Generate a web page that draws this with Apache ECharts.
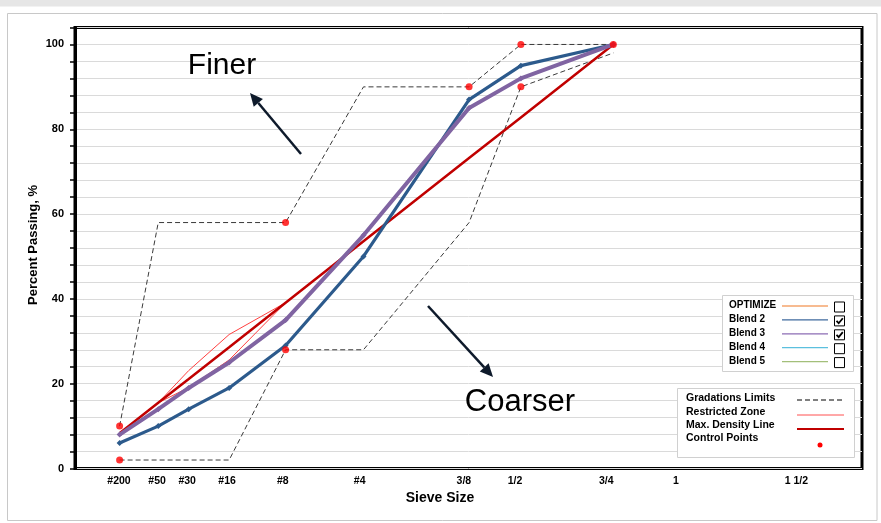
<!DOCTYPE html>
<html>
<head>
<meta charset="utf-8">
<script src="https://cdn.jsdelivr.net/npm/echarts@6/dist/echarts.min.js"></script>
<style>
  html, body { margin: 0; padding: 0; background: #fff; }
  #chart { width: 881px; height: 523px; }
</style>
</head>
<body>
<div id="chart"></div>
<script>
// Sieve designations and their openings (mm); the horizontal scale is opening^0.45
const sieveNames   = ['#200', '#50', '#30', '#16', '#8', '#4', '3/8', '1/2', '3/4', '1', '1 1/2'];
const sieveSizesMm = [0.075, 0.3, 0.6, 1.18, 2.36, 4.75, 9.5, 12.5, 19, 25, 37.5];

// Blend gradations (percent passing)
const blendSieves = ['#200', '#50', '#30', '#16', '#8', '#4', '3/8', '1/2', '3/4'];
const blend2 = [6, 10, 14, 19, 29, 50, 87, 95, 100];
const blend3 = [8, 14, 19, 25, 35, 55, 85, 92, 100];

// Maximum density line
const maxDensity = [8.3, 15.5, 21.1, 28.6, 39.1, 53.6, 73.2, 82.8, 100];

// Gradation limits
const upperLimitSieves = ['#200', '#50', '#8', '#4', '3/8', '1/2', '3/4'];
const upperLimit = [10, 58, 58, 90, 90, 100, 100];
const lowerLimitSieves = ['#200', '#16', '#8', '#4', '3/8', '1/2', '3/4'];
const lowerLimit = [2, 2, 28, 28, 58, 90, 98];

// Restricted zone
const rzSieves = ['#50', '#30', '#16', '#8'];
const rzUpper = [15.5, 23.1, 31.6, 39.1];
const rzLower = [15.5, 19.1, 25.6, 39.1];

// Control points
const controlSieves = ['#200', '#200', '#8', '#8', '3/8', '1/2', '1/2', '3/4'];
const controlValues = [2, 10, 28, 58, 90, 90, 100, 100];

// Labelled percent-passing values
const yLabelStep = 20;

const POWER = 0.45;
function sievePos(name) {
  return Math.pow(sieveSizesMm[sieveNames.indexOf(name)], POWER);
}
function pairs(names, values) {
  return names.map((n, i) => [sievePos(n), values[i]]);
}
const tickPositions = sieveNames.map(sievePos);

const FONT = '"Liberation Sans", Arial, sans-serif';
const chart = echarts.init(document.getElementById('chart'));

// Arrow built from a shaft and a filled head
function arrow(x1, y1, x2, y2, color) {
  const dx = x2 - x1, dy = y2 - y1, L = Math.hypot(dx, dy);
  const ux = dx / L, uy = dy / L, hl = 13, hw = 6;
  const bx = x2 - ux * hl, by = y2 - uy * hl;
  return [
    { type: 'line', z: 50, shape: { x1: x1, y1: y1, x2: bx, y2: by },
      style: { stroke: color, lineWidth: 2.5 } },
    { type: 'polygon', z: 50,
      shape: { points: [[x2, y2], [bx - uy * hw, by + ux * hw], [bx + uy * hw, by - ux * hw]] },
      style: { fill: color } }
  ];
}

// Legend panels
const blendLegend = [
  { name: 'OPTIMIZE', color: '#F4A46C', checked: false },
  { name: 'Blend 2',  color: '#3F6A9E', checked: true },
  { name: 'Blend 3',  color: '#8C6DB4', checked: true },
  { name: 'Blend 4',  color: '#5BC0DE', checked: false },
  { name: 'Blend 5',  color: '#A3BF7A', checked: false }
];
const keyLegend = ['Gradations Limits', 'Restricted Zone', 'Max. Density Line', 'Control Points'];

const graphics = [];
graphics.push({ type: 'rect', z: -10, shape: { x: 0, y: 0, width: 881, height: 6.5 }, style: { fill: '#E6E6E6' } });
graphics.push({ type: 'rect', z: -10, shape: { x: 7.5, y: 13.5, width: 869.5, height: 507 },
  style: { fill: 'none', stroke: '#C8C8C8', lineWidth: 1 } });

// Blend legend box
graphics.push({ type: 'rect', z: 100, shape: { x: 722.5, y: 295.5, width: 131, height: 76 },
  style: { fill: '#fff', stroke: '#D0D0D0', lineWidth: 1 } });
blendLegend.forEach((it, i) => {
  const yc = 305.5 + i * 13.9;
  graphics.push({ type: 'text', z: 101, x: 729, y: yc,
    style: { text: it.name, font: 'bold 10px ' + FONT, fill: '#000', verticalAlign: 'middle' } });
  graphics.push({ type: 'line', z: 101, shape: { x1: 782, y1: yc + 0.5, x2: 828, y2: yc + 0.5 },
    style: { stroke: it.color, lineWidth: 1.3 } });
  graphics.push({ type: 'rect', z: 101, shape: { x: 834.5, y: yc - 3.5, width: 10, height: 10 },
    style: { fill: '#fff', stroke: '#000', lineWidth: 1 } });
  if (it.checked) {
    graphics.push({ type: 'polyline', z: 102,
      shape: { points: [[836.5, yc + 1.5], [838.7, yc + 3.8], [842.8, yc - 1.2]] },
      style: { stroke: '#000', lineWidth: 1.8, fill: 'none' } });
  }
});

// Line-type legend box
graphics.push({ type: 'rect', z: 100, shape: { x: 677.5, y: 388.5, width: 177, height: 69 },
  style: { fill: '#fff', stroke: '#D0D0D0', lineWidth: 1 } });
keyLegend.forEach((t, i) => {
  graphics.push({ type: 'text', z: 101, x: 686, y: 398.5 + i * 13.3,
    style: { text: t, font: 'bold 10.5px ' + FONT, fill: '#000', verticalAlign: 'middle' } });
});
graphics.push({ type: 'line', z: 101, shape: { x1: 797, y1: 400, x2: 844, y2: 400 },
  style: { stroke: '#000', lineWidth: 1, lineDash: [5, 3] } });
graphics.push({ type: 'line', z: 101, shape: { x1: 797, y1: 415, x2: 844, y2: 415 },
  style: { stroke: '#FF5050', lineWidth: 1 } });
graphics.push({ type: 'line', z: 101, shape: { x1: 797, y1: 429, x2: 844, y2: 429 },
  style: { stroke: '#C00000', lineWidth: 2 } });
graphics.push({ type: 'circle', z: 101, shape: { cx: 820, cy: 445, r: 2.5 }, style: { fill: '#FF0000' } });

// Annotations
graphics.push({ type: 'text', z: 50, x: 222, y: 66,
  style: { text: 'Finer', font: '30px ' + FONT, fill: '#000', align: 'center', verticalAlign: 'middle' } });
graphics.push({ type: 'text', z: 50, x: 520, y: 402,
  style: { text: 'Coarser', font: '31px ' + FONT, fill: '#000', align: 'center', verticalAlign: 'middle' } });
arrow(301, 154, 250, 93, '#0E1A2B').forEach(g => graphics.push(g));
arrow(428, 306, 493, 377, '#0E1A2B').forEach(g => graphics.push(g));

// Axis titles
graphics.push({ type: 'text', z: 50, x: 440, y: 498,
  style: { text: 'Sieve Size', font: 'bold 14px ' + FONT, fill: '#000', align: 'center', verticalAlign: 'middle' } });
graphics.push({ type: 'text', z: 50, x: 33, y: 245, rotation: Math.PI / 2,
  style: { text: 'Percent Passing, %', font: 'bold 13px ' + FONT, fill: '#000', align: 'center', verticalAlign: 'middle' } });

chart.setOption({
  animation: false,
  backgroundColor: '#fff',
  grid: {
    left: 75, top: 27.5, width: 787, height: 441,
    show: true, borderColor: '#000', borderWidth: 3, backgroundColor: 'transparent',
    containLabel: false, outerBoundsMode: 'none'
  },
  xAxis: [
    {
      // data scale (0.45 power of opening)
      type: 'value', position: 'top', min: 0, max: 5.5,
      axisLine: { show: false }, axisTick: { show: false },
      axisLabel: { show: false }, splitLine: { show: false }
    },
    {
      // sieve designations
      type: 'value', position: 'bottom', min: 0, max: 5.574,
      axisLine: { show: false }, axisTick: { show: false }, splitLine: { show: false },
      axisLabel: {
        customValues: tickPositions,
        margin: 7,
        fontSize: 10.5, fontWeight: 'bold', fontFamily: FONT, color: '#000',
        formatter: function (v) {
          const i = tickPositions.findIndex(p => Math.abs(p - v) < 1e-6);
          return i >= 0 ? sieveNames[i] : '';
        }
      }
    }
  ],
  yAxis: {
    type: 'value', min: 0, max: 104, interval: 4,
    axisLine: { show: true, lineStyle: { color: '#000', width: 3 } },
    axisTick: { show: true, length: 5, lineStyle: { color: '#000', width: 1.5 } },
    axisLabel: {
      margin: 11, fontSize: 11, fontWeight: 'bold', fontFamily: FONT, color: '#000',
      formatter: v => (v % yLabelStep === 0 && v <= 100 ? String(v) : '')
    },
    splitLine: { show: true, lineStyle: { color: '#DADADA', width: 1 } }
  },
  graphic: graphics,
  series: [
    { name: 'Gradations Limits', type: 'line', z: 2, data: pairs(upperLimitSieves, upperLimit),
      symbol: 'none', lineStyle: { color: '#3A3A3A', width: 1, type: [5, 3] } },
    { name: 'Gradations Limits', type: 'line', z: 2, data: pairs(lowerLimitSieves, lowerLimit),
      symbol: 'none', lineStyle: { color: '#3A3A3A', width: 1, type: [5, 3] } },
    { name: 'Restricted Zone', type: 'line', z: 3, data: pairs(rzSieves, rzUpper),
      symbol: 'none', lineStyle: { color: '#FF4040', width: 1 } },
    { name: 'Restricted Zone', type: 'line', z: 3, data: pairs(rzSieves, rzLower),
      symbol: 'none', lineStyle: { color: '#FF4040', width: 1 } },
    { name: 'Max. Density Line', type: 'line', z: 4, data: pairs(blendSieves, maxDensity),
      symbol: 'none', lineStyle: { color: '#C00000', width: 2.5 } },
    { name: 'Blend 2', type: 'line', z: 5, data: pairs(blendSieves, blend2),
      symbol: 'diamond', symbolSize: 6, itemStyle: { color: '#2C5A8C' },
      lineStyle: { color: '#2C5A8C', width: 3.2 } },
    { name: 'Blend 3', type: 'line', z: 6, data: pairs(blendSieves, blend3),
      symbol: 'diamond', symbolSize: 6, itemStyle: { color: '#8064A2' },
      lineStyle: { color: '#8064A2', width: 4 } },
    { name: 'Control Points', type: 'scatter', z: 7, data: pairs(controlSieves, controlValues),
      symbol: 'circle', symbolSize: 7, itemStyle: { color: '#FF0000' } }
  ]
});
</script>
</body>
</html>
